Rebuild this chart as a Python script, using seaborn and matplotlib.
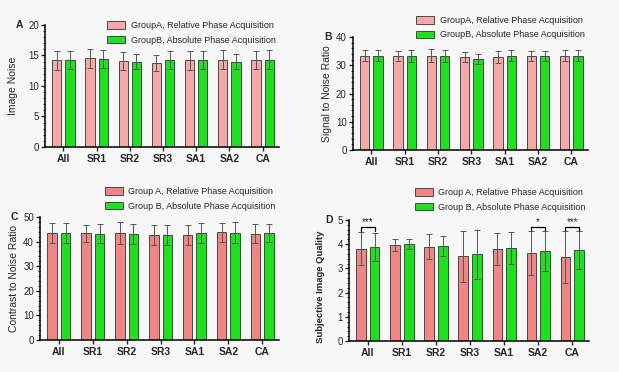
import numpy as np
import pandas as pd
import matplotlib
matplotlib.use("Agg")
import matplotlib.pyplot as plt
from matplotlib.ticker import MultipleLocator
import seaborn as sns

sns.set_style("ticks")
plt.rcParams['font.family'] = ['Liberation Sans', 'DejaVu Sans']

categories = ["All", "SR1", "SR2", "SR3", "SA1", "SA2", "CA"]

noise_a = [14.2, 14.5, 14.1, 13.7, 14.2, 14.3, 14.3]
noise_a_sd = [1.6, 1.5, 1.5, 1.3, 1.6, 1.6, 1.5]
noise_b = [14.2, 14.4, 14.0, 14.3, 14.2, 14.0, 14.3]
noise_b_sd = [1.5, 1.5, 1.3, 1.5, 1.5, 1.3, 1.6]

snr_a = [33.5, 33.4, 33.5, 33.0, 33.0, 33.3, 33.5]
snr_a_sd = [2.0, 1.8, 2.2, 1.8, 2.0, 1.8, 2.0]
snr_b = [33.5, 33.3, 33.3, 32.4, 33.5, 33.3, 33.5]
snr_b_sd = [2.0, 2.0, 2.2, 1.8, 2.0, 1.8, 2.0]

cnr_a = [43.5, 43.3, 43.4, 42.7, 42.7, 43.8, 43.2]
cnr_a_sd = [4.0, 3.5, 4.5, 4.0, 4.0, 3.8, 4.0]
cnr_b = [43.5, 43.2, 43.1, 42.5, 43.5, 43.5, 43.5]
cnr_b_sd = [4.0, 4.0, 4.0, 4.0, 4.0, 4.3, 3.7]

qual_a = [3.80, 3.96, 3.90, 3.50, 3.80, 3.63, 3.47]
qual_a_sd = [0.68, 0.23, 0.50, 1.05, 0.66, 0.90, 1.07]
qual_b = [3.87, 3.99, 3.92, 3.58, 3.82, 3.72, 3.75]
qual_b_sd = [0.58, 0.20, 0.43, 1.00, 0.66, 0.82, 0.78]

sig_categories = ["All", "SA2", "CA"]
sig_labels = ["***", "*", "***"]

labels_top = ["GroupA, Relative Phase Acquisition", "GroupB, Absolute Phase Acquisition"]
labels_bot = ["Group A, Relative Phase Acquisition", "Group B, Absolute Phase Acquisition"]

PINK_LIGHT = "#f5a8a8"
PINK = "#f08585"
GREEN = "#1ee01e"

fig = plt.figure(figsize=(6.19, 3.72), dpi=100)
fig.patch.set_facecolor("#f7f7f7")

def panel(rect, a, asd, b, bsd, labels, pink, ylim, major, minor, ylabel, letter,
          legend_y, ylabel_kw=None, letter_x=-0.09):
    ax = fig.add_axes(rect)
    ax.set_facecolor("none")
    df = pd.DataFrame({
        "cat": categories * 2,
        "val": list(a) + list(b),
        "grp": [labels[0]] * len(categories) + [labels[1]] * len(categories),
    })
    sns.barplot(data=df, x="cat", y="val", hue="grp", palette=[pink, GREEN],
                errorbar=None, width=0.8, gap=0.3, edgecolor="#333333",
                linewidth=0.6, ax=ax, saturation=1)
    sds = list(asd) + list(bsd)
    vals = list(a) + list(b)
    patches = [p for p in ax.patches if p.get_height() > 0][:len(vals)]
    for p, v, s in zip(patches, vals, sds):
        xc = p.get_x() + p.get_width() / 2
        ax.errorbar(xc, v, yerr=s, fmt="none", ecolor="#555555", elinewidth=0.7,
                    capsize=2, capthick=0.7, zorder=3)
    ax.set_xlim(-0.55, 6.5)
    ax.set_ylim(*ylim)
    ax.yaxis.set_major_locator(MultipleLocator(major))
    ax.yaxis.set_minor_locator(MultipleLocator(minor))
    ax.tick_params(axis="y", which="major", length=3, width=1, labelsize=7, pad=1.5)
    ax.tick_params(axis="y", which="minor", length=1.5, width=0.7)
    ax.tick_params(axis="x", length=3, width=1, labelsize=7.5, pad=2)
    for t in ax.get_xticklabels():
        t.set_fontweight("bold")
    for sp in ["top", "right"]:
        ax.spines[sp].set_visible(False)
    for sp in ["left", "bottom"]:
        ax.spines[sp].set_linewidth(1.1)
        ax.spines[sp].set_color("black")
    ax.set_xlabel("")
    kw = dict(fontsize=7.5, labelpad=3)
    if ylabel_kw:
        kw.update(ylabel_kw)
    ax.set_ylabel(ylabel, **kw)
    ax.text(letter_x, 1.0, letter, transform=ax.transAxes, fontsize=7.5,
            fontweight="bold", ha="right", va="center")
    ax.legend(loc="upper right", bbox_to_anchor=(1.0, legend_y), frameon=False,
              fontsize=6.5, handlelength=2.0, handleheight=0.9, handletextpad=0.6,
              labelspacing=0.6, borderaxespad=0.0)
    return ax, patches

panel([0.073, 0.605, 0.378, 0.328], noise_a, noise_a_sd, noise_b, noise_b_sd,
      labels_top, PINK_LIGHT, (0, 20), 5, 1, "Image Noise", "A", 1.06,
      ylabel_kw=dict(labelpad=7), letter_x=-0.095)
panel([0.570, 0.597, 0.380, 0.303], snr_a, snr_a_sd, snr_b, snr_b_sd,
      labels_top, PINK_LIGHT, (0, 40), 10, 2, "Signal to Noise Ratio", "B", 1.22,
      letter_x=-0.088)
panel([0.065, 0.086, 0.386, 0.331], cnr_a, cnr_a_sd, cnr_b, cnr_b_sd,
      labels_bot, PINK, (0, 50), 10, 2, "Contrast to Noise Ratio", "C", 1.27,
      letter_x=-0.092)
axd, pd_patches = panel([0.564, 0.083, 0.388, 0.326], qual_a, qual_a_sd, qual_b, qual_b_sd,
      labels_bot, PINK, (0, 5), 1, 0.2, "Subjective Image Quality", "D", 1.29,
      ylabel_kw=dict(fontsize=6.8, fontweight="bold", labelpad=4), letter_x=-0.07)
axd.yaxis.set_label_coords(-0.1, 0.45)

n = len(categories)
for cat, lab in zip(sig_categories, sig_labels):
    i = categories.index(cat)
    pa, pb = pd_patches[i], pd_patches[n + i]
    x1 = pa.get_x() + pa.get_width() / 2
    x2 = pb.get_x() + pb.get_width() / 2
    axd.plot([x1, x1, x2, x2], [4.55, 4.7, 4.7, 4.55], color="black", lw=0.9)
    axd.text((x1 + x2) / 2, 4.72, lab, ha="center", va="bottom", fontsize=7)

fig.savefig("out.png", dpi=100, facecolor=fig.get_facecolor())
